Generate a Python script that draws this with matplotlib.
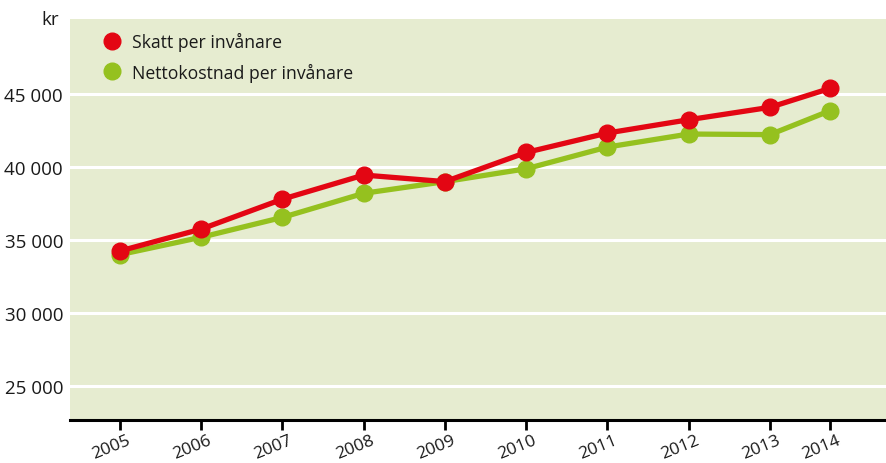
import matplotlib
matplotlib.use("Agg")
import matplotlib.pyplot as plt
from matplotlib.lines import Line2D
from matplotlib.ticker import FuncFormatter

years = ["2005", "2006", "2007", "2008", "2009", "2010", "2011", "2012", "2013", "2014"]
# x positions on a time axis (2014 sits closer to 2013 in the original)
year_pos = [2005, 2006, 2007, 2008, 2009, 2010, 2011, 2012, 2013, 2013.74]
skatt = [34250, 35750, 37800, 39450, 39000, 41000, 42330, 43240, 44090, 45390]
netto = [34000, 35190, 36550, 38200, 39000, 39880, 41370, 42260, 42220, 43860]
y_ticks = [25000, 30000, 35000, 40000, 45000]

red = "#e30613"
green = "#95c11f"
bg = "#e6ecd0"

plt.rcParams['font.family'] = ['Open Sans', 'DejaVu Sans']

fig = plt.figure(figsize=(8.87, 4.64), dpi=100)
ax = fig.add_axes([70/887, 1-421/464, 1-70/887, (421-20)/464])
ax.set_facecolor(bg)

for y in y_ticks:
    ax.axhline(y, color="white", lw=2.2, zorder=1)

ax.plot(year_pos, netto, color=green, lw=3.8, marker="o", ms=12, zorder=3)
ax.plot(year_pos, skatt, color=red, lw=3.8, marker="o", ms=12, zorder=4)

ax.set_xlim(2004.385, 2014.44)
ax.set_ylim(22670, 50140)
ax.set_xticks(year_pos)
ax.set_xticklabels([])
# year labels a bit left of their ticks, rotated
for xp, yr in zip(year_pos, years):
    ax.annotate(yr, xy=(xp, 0), xycoords=("data", "axes fraction"),
                xytext=(-6.5, -19), textcoords="offset points",
                ha="center", va="center", rotation=22, fontsize=12.5, color="#1a1a1a")
ax.set_yticks(y_ticks)
ax.yaxis.set_major_formatter(FuncFormatter(lambda v, p: f"{int(v):,}".replace(",", " ")))
ax.tick_params(axis="y", length=0, pad=5, labelsize=13.5, labelcolor="#1a1a1a")
ax.tick_params(axis="x", length=7, width=2, color="black")

for s in ["top", "right", "left"]:
    ax.spines[s].set_visible(False)
ax.spines["bottom"].set_linewidth(2.2)

ax.text(-0.014, 1.0, "kr", transform=ax.transAxes, ha="right", va="center",
        fontsize=13.5, color="#1a1a1a")

handles = [
    Line2D([], [], ls="none", marker="o", ms=12, color=red, label="Skatt per invånare"),
    Line2D([], [], ls="none", marker="o", ms=12, color=green, label="Nettokostnad per invånare"),
]
ax.legend(handles=handles, loc="upper left", bbox_to_anchor=(0.01, 1.007),
          frameon=False, fontsize=12.7, handletextpad=0.15, labelspacing=0.65,
          labelcolor="#1a1a1a")

fig.savefig("out.png", dpi=100)
